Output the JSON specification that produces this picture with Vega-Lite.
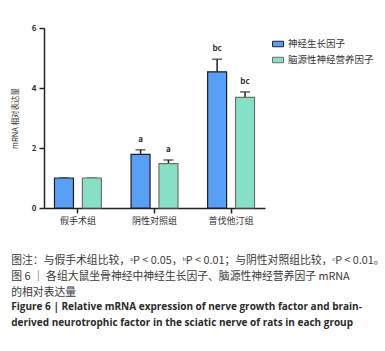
{
  "$schema": "https://vega.github.io/schema/vega-lite/v6.json",
  "width": 221,
  "height": 180,
  "autosize": {"type": "none"},
  "padding": {"left": 44, "top": 28, "right": 120, "bottom": 143},
  "background": "white",
  "config": {
    "font": "Noto Sans CJK SC",
    "view": {"stroke": null},
    "axis": {"grid": false, "domainColor": "#222", "tickColor": "#222", "domainWidth": 1.5, "tickWidth": 1.5, "labelColor": "#333", "titleColor": "#333"}
  },
  "title": {
    "text": ["图注：与假手术组比较，ᵃP < 0.05，ᵇP < 0.01；与阴性对照组比较，ᶜP < 0.01。", "图 6 ｜ 各组大鼠坐骨神经中神经生长因子、脑源性神经营养因子 mRNA", "的相对表达量"],
    "subtitle": ["Figure 6  |  Relative mRNA expression of nerve growth factor and brain-", "derived neurotrophic factor in the sciatic nerve of rats in each group"],
    "orient": "bottom",
    "anchor": "start",
    "frame": "bounds",
    "offset": 30,
    "fontSize": 10.8,
    "fontWeight": "normal",
    "color": "#3a3a3a",
    "lineHeight": 16,
    "subtitleFontSize": 10,
    "subtitleFontWeight": "bold",
    "subtitleColor": "#2a2a2a",
    "subtitleLineHeight": 16,
    "subtitlePadding": 4,
    "subtitleFont": "Open Sans"
  },
  "data": {
    "values": [
      {"group": "假手术组", "factor": "神经生长因子", "value": 1.0, "upper": 1.0, "label": ""},
      {"group": "假手术组", "factor": "脑源性神经营养因子", "value": 1.0, "upper": 1.0, "label": ""},
      {"group": "阴性对照组", "factor": "神经生长因子", "value": 1.79, "upper": 1.94, "label": "a"},
      {"group": "阴性对照组", "factor": "脑源性神经营养因子", "value": 1.48, "upper": 1.6, "label": "a"},
      {"group": "普伐他汀组", "factor": "神经生长因子", "value": 4.54, "upper": 4.96, "label": "bc"},
      {"group": "普伐他汀组", "factor": "脑源性神经营养因子", "value": 3.69, "upper": 3.87, "label": "bc"}
    ]
  },
  "encoding": {
    "x": {
      "field": "group", "type": "nominal", "sort": null,
      "scale": {"paddingInner": 0.3, "paddingOuter": 0.093},
      "axis": {"title": null, "labelAngle": 0, "labelFontSize": 9, "labelPadding": 3, "tickSize": 5}
    },
    "xOffset": {"field": "factor", "type": "nominal", "sort": null, "scale": {"paddingInner": 0.32, "paddingOuter": 0.12}}
  },
  "layer": [
    {
      "mark": {"type": "rule", "color": "#222", "strokeWidth": 1.5},
      "encoding": {
        "y": {"field": "value", "type": "quantitative"},
        "y2": {"field": "upper"}
      }
    },
    {
      "mark": {"type": "tick", "color": "#222", "thickness": 1.5, "size": 10, "orient": "horizontal"},
      "encoding": {
        "y": {"field": "upper", "type": "quantitative"}
      }
    },
    {
      "mark": {"type": "bar", "strokeWidth": 1.2},
      "encoding": {
        "y": {
          "field": "value", "type": "quantitative",
          "scale": {"domain": [0, 6], "nice": false},
          "axis": {"values": [0, 2, 4, 6], "title": "mRNA 相对表达量", "titleFontSize": 7.5, "titleFontWeight": "normal", "titlePadding": 12, "labelFontSize": 8, "labelFontWeight": "bold", "tickSize": 5, "labelPadding": 3}
        },
        "fill": {
          "field": "factor", "type": "nominal", "sort": null,
          "scale": {"range": ["#589ff7", "#86e0c7"]},
          "legend": {"title": null, "orient": "right", "offset": -3, "labelFontSize": 9.5, "symbolType": "M-1,-0.5L1,-0.5L1,0.5L-1,0.5Z", "symbolSize": 120, "symbolStrokeColor": "#333", "symbolStrokeWidth": 1, "rowPadding": 5, "labelColor": "#333", "padding": 10}
        },
        "stroke": {
          "field": "factor", "type": "nominal", "sort": null,
          "scale": {"range": ["#1e1e1e", "#6e6e6e"]},
          "legend": null
        }
      }
    },
    {
      "mark": {"type": "text", "dy": -6, "fontSize": 8, "fontWeight": "bold", "color": "#333", "baseline": "bottom"},
      "encoding": {
        "y": {"field": "upper", "type": "quantitative"},
        "text": {"field": "label"}
      }
    }
  ]
}
